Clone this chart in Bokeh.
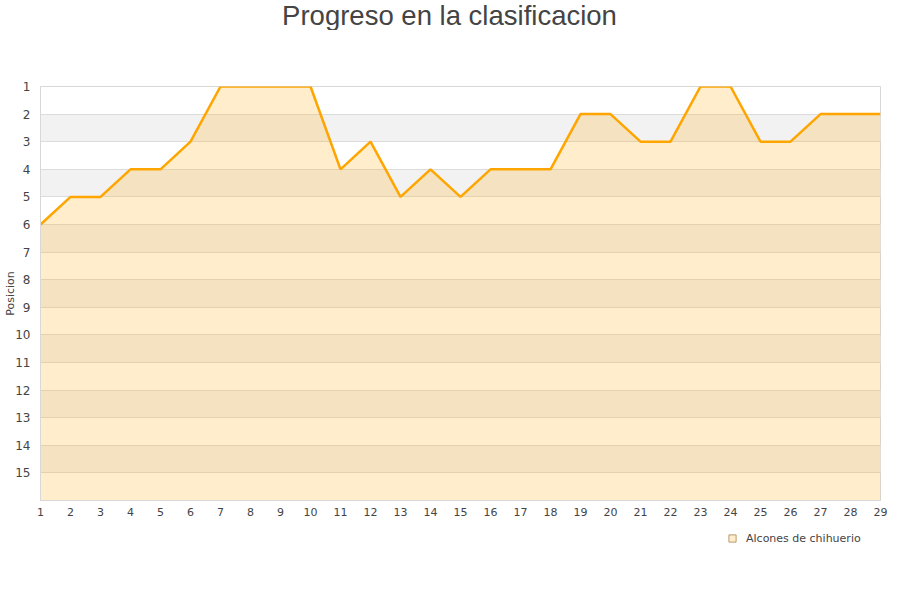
from bokeh.plotting import figure
from bokeh.layouts import column
from bokeh.models import Range1d, FixedTicker, Legend, LegendItem, Label
from bokeh.embed import file_html
from bokeh.resources import INLINE

jornadas = list(range(1, 30))
posicion = [6, 5, 5, 4, 4, 3, 1, 1, 1, 1, 4, 3, 5, 4, 5, 4, 4, 4, 2, 2, 3, 3, 1, 1, 3, 3, 2, 2, 2]
equipo = "Alcones de chihuerio"
titulo = "Progreso en la clasificacion"
fondo = 16

# cabecera con el titulo
pt = figure(width=892, height=30, output_backend="svg", toolbar_location=None,
            x_range=Range1d(0, 840), y_range=Range1d(0, 1), min_border=0)
pt.axis.visible = False
pt.grid.visible = False
pt.outline_line_color = None
pt.add_layout(Label(x=409, y=0.5, text=titulo, text_align="center", text_baseline="middle",
                    text_font="Liberation Sans", text_font_size="27.5px", text_color="#444444"))

p = figure(width=892, height=495, output_backend="svg", toolbar_location=None,
           x_range=Range1d(1, 29), y_range=Range1d(fondo, 1),
           min_border_left=40, min_border_right=12, min_border_bottom=25, min_border_top=56)

p.varea(x=jornadas, y1=posicion, y2=fondo, fill_color="#FFA500", fill_alpha=0.2)
p.line(jornadas, posicion, line_color="#FFA500", line_width=2.5)

p.xaxis.ticker = FixedTicker(ticks=jornadas)
p.yaxis.ticker = FixedTicker(ticks=list(range(1, 16)))
p.yaxis.axis_label = "Posicion"
p.yaxis.axis_label_text_font_size = "11px"
p.yaxis.axis_label_text_font_style = "normal"
p.yaxis.axis_label_text_font = "DejaVu Sans"
p.yaxis.axis_label_standoff = -5
for ax in (p.xaxis, p.yaxis):
    ax.major_label_text_font = "DejaVu Sans"
    ax.major_label_text_font_size = "11px"
    ax.major_label_text_color = "#444444"
    ax.major_tick_line_color = None
    ax.major_tick_out = 0
    ax.major_tick_in = 0
    ax.minor_tick_line_color = None
    ax.minor_tick_out = 0
    ax.axis_line_color = "#D8D8D8"
p.yaxis.major_label_text_font_size = "12px"
p.yaxis.major_label_standoff = 10
p.xaxis.major_label_standoff = 7

p.xgrid.grid_line_color = None
p.ygrid.grid_line_color = "#DCDCDC"
p.ygrid.band_fill_color = "#F2F2F2"
p.ygrid.band_fill_alpha = 1
p.outline_line_color = "#D8D8D8"

# leyenda en una franja aparte bajo el grafico (los puntos quedan fuera del rango)
pl = figure(width=892, height=40, output_backend="svg", toolbar_location=None,
            x_range=Range1d(-2, -1), y_range=Range1d(-2, -1), min_border=0)
pl.axis.visible = False
pl.grid.visible = False
pl.outline_line_color = None
muestra = pl.scatter(jornadas, posicion, marker="square", size=9,
                     fill_color="#FFEDCC", line_color="#B89A70")
legend = Legend(items=[LegendItem(label=equipo, renderers=[muestra])],
                location=(681, 16), orientation="horizontal",
                label_text_font="DejaVu Sans", label_text_font_size="11px",
                glyph_width=18, glyph_height=18, border_line_alpha=0,
                background_fill_alpha=0, padding=2, margin=0)
pl.add_layout(legend)

layout = column(pt, p, pl)
open("out.html", "w").write(file_html(layout, INLINE))
